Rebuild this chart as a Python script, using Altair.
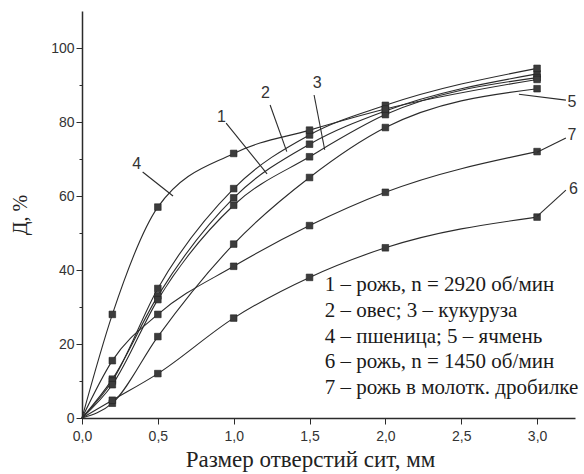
import altair as alt
import pandas as pd

sizes = [0.0, 0.2, 0.5, 1.0, 1.5, 2.0, 3.0]
c1 = [0, 10.5, 33, 59.5, 74, 83, 93]
c2 = [0, 10, 35, 62, 76.5, 84.5, 94.5]
c3 = [0, 9, 32, 57.5, 70.6, 82, 92]
c4 = [0, 28, 57, 71.5, 77.8, 83.5, 91.5]
c5 = [0, 4, 22, 47, 65, 78.5, 89]
c6 = [0, 4.8, 12, 27, 38, 46, 54.3]
c7 = [0, 15.5, 28, 41, 52, 61, 72]
series = {"1": c1, "2": c2, "3": c3, "4": c4, "5": c5, "6": c6, "7": c7}

rows = []
for name, vals in series.items():
    for xv, yv in zip(sizes, vals):
        rows.append({"s": name, "x": xv, "y": yv})
df = pd.DataFrame(rows)

# curve number labels and their leader lines
lab_text = ["1", "2", "3", "4", "5", "6", "7"]
lab_x = [0.92, 1.21, 1.55, 0.36, 3.23, 3.24, 3.23]
lab_y = [81.4, 87.8, 90.5, 68.6, 85.4, 62.0, 76.5]
lead_x1 = [0.95, 1.24, 1.53, 0.40, 3.19, 3.19, 3.19]
lead_y1 = [79.7, 84.6, 87.3, 66.5, 85.9, 61.6, 75.7]
lead_x2 = [1.22, 1.35, 1.60, 0.60, 2.88, 3.0, 3.0]
lead_y2 = [66.0, 72.0, 72.5, 60.0, 87.5, 54.5, 71.8]
labels = pd.DataFrame({"t": lab_text, "x": lab_x, "y": lab_y})
leaders = pd.DataFrame({"x": lead_x1, "y": lead_y1, "x2": lead_x2, "y2": lead_y2})

legend_lines = [
    "1 – рожь, n = 2920 об/мин",
    "2 – овес; 3 – кукуруза",
    "4 – пшеница; 5 – ячмень",
    "6 – рожь, n = 1450 об/мин",
    "7 – рожь в молотк. дробилке",
]
legend_y = [36.0, 29.0, 22.0, 15.2, 8.2]
legend = pd.DataFrame({"t": legend_lines, "x": [1.6] * 5, "y": legend_y})

ink = "#2b2b2b"
xs = alt.Scale(domain=[0, 3.25], nice=False, zero=False)
ys = alt.Scale(domain=[0, 110], nice=False)

xaxis = alt.Axis(
    values=[i * 0.25 for i in range(14)],
    labelExpr="datum.value % 0.5 === 0 ? replace(format(datum.value, '.1f'), '.', ',') : ''",
    tickSize={"condition": {"test": "datum.value % 0.5 === 0", "value": 6}, "value": 3},
    grid=False, domainColor=ink, domainWidth=1.5, tickColor=ink, labelFlush=False,
    labelFont="Liberation Sans", labelFontSize=14, labelColor="#333", labelPadding=5,
    title="Размер отверстий сит, мм", titleFont="Liberation Serif",
    titleFontSize=23, titleFontWeight="normal", titleColor="#222", titlePadding=5,
    titleX=228, titleAnchor="middle",
)
yaxis = alt.Axis(
    values=[i * 10 for i in range(11)],
    labelExpr="datum.value % 20 === 0 ? datum.value : ''",
    tickSize={"condition": {"test": "datum.value % 20 === 0", "value": 6}, "value": 3},
    grid=False, domainColor=ink, domainWidth=1.5, tickColor=ink, labelFlush=False,
    labelFont="Liberation Sans", labelFontSize=14, labelColor="#333",
    title="Д, %", titleFont="Liberation Serif", titleFontSize=20,
    titleFontWeight="normal", titleColor="#222", titlePadding=20,
)

base = alt.Chart(df)
lines = base.mark_line(interpolate="monotone", color=ink, strokeWidth=1.1).encode(
    x=alt.X("x:Q", scale=xs, axis=xaxis),
    y=alt.Y("y:Q", scale=ys, axis=yaxis),
    detail="s:N",
)
pts = base.transform_filter("datum.x > 0").mark_square(
    size=44, color="#3c3c3c", opacity=1, stroke="#222", strokeWidth=0.6
).encode(x="x:Q", y="y:Q")

lead = alt.Chart(leaders).mark_rule(color=ink, strokeWidth=1.1).encode(
    x="x:Q", y="y:Q", x2="x2:Q", y2="y2:Q"
)
nums = alt.Chart(labels).mark_text(
    font="Liberation Sans", fontSize=16, color="#333", align="center", baseline="middle"
).encode(x="x:Q", y="y:Q", text="t:N")
leg = alt.Chart(legend).mark_text(
    font="Liberation Serif", fontSize=21, color="#1a1a1a", align="left", baseline="middle"
).encode(x="x:Q", y="y:Q", text="t:N")

chart = alt.layer(lines, pts, lead, nums, leg).properties(
    width=493, height=407,
    autosize=alt.AutoSizeParams(type="none"),
    padding={"left": 82, "top": 11, "right": 9, "bottom": 56},
    background="white",
).configure_view(stroke=None)

chart.save("out.html", embed_options={"renderer": "svg", "actions": False})
